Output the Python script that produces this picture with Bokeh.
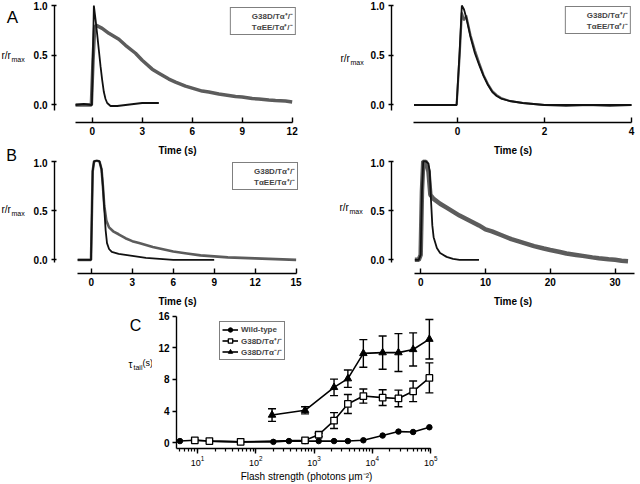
from bokeh.plotting import figure
from bokeh.models import (Range1d, Label, Legend, LegendItem, Whisker, TeeHead,
                          ColumnDataSource, FixedTicker, LogTicker, Spacer, PrintfTickFormatter)
from bokeh.layouts import column, row
from bokeh.embed import file_html
from bokeh.resources import INLINE

FONT = "Liberation Sans"
GRAY = "#5c5c5c"
BLACK = "#111111"

# ---------------- data ----------------
# Panel A, left
a1_t_mut = [-1.0, -0.05, 0.05, 0.15, 0.25, 0.6, 1.0, 1.6, 2.0, 2.6, 3.0, 3.6, 4.0, 4.6, 5.0, 5.6,
            6.0, 6.6, 7.0, 7.6, 8.0, 8.6, 9.0, 9.6, 10.0, 10.6, 11.0, 11.6, 12.0]
a1_r_mut = [0.0, 0.0, 0.45, 0.78, 0.80, 0.77, 0.72, 0.66, 0.60, 0.52, 0.45, 0.36, 0.32, 0.26, 0.23, 0.19,
            0.17, 0.14, 0.13, 0.11, 0.10, 0.085, 0.08, 0.065, 0.06, 0.05, 0.045, 0.04, 0.03]
a1_t_ee = [-1.0, -0.5, -0.02, 0.05, 0.1, 0.2, 0.3, 0.4, 0.5, 0.6, 0.7, 0.8, 0.9, 1.1, 1.5,
           2.0, 2.5, 3.0, 3.5, 4.0]
a1_r_ee = [0.0, 0.01, 0.0, 0.55, 1.0, 0.86, 0.71, 0.55, 0.39, 0.25, 0.13, 0.06, 0.02, -0.01, -0.01,
           0.0, 0.01, 0.02, 0.02, 0.02]

# Panel A, right
a2_t = [-1.0, -0.5, -0.02, 0.05, 0.1, 0.15, 0.2, 0.3, 0.4, 0.5, 0.6, 0.7, 0.8, 0.9, 1.0, 1.2,
        1.5, 2.0, 2.5, 3.0, 3.5, 4.0]
a2_r_ee = [0.0, 0.0, 0.0, 0.55, 1.0, 0.96, 0.88, 0.68, 0.52, 0.40, 0.29, 0.20, 0.13, 0.09, 0.065, 0.04,
           0.02, 0.0, 0.0, 0.0, 0.0, 0.0]
a2_r_mut = [0.0, 0.0, 0.0, 0.5, 0.93, 0.85, 0.9, 0.70, 0.55, 0.42, 0.30, 0.21, 0.14, 0.10, 0.07, 0.04,
            0.02, 0.0, -0.01, 0.0, -0.01, 0.0]

# Panel B, left
b1_t_ee = [-1.0, -0.5, -0.02, 0.1, 0.2, 0.4, 0.6, 0.75, 0.85, 0.95, 1.05, 1.15, 1.3, 1.5, 2.0,
           2.5, 3.0, 4.0, 5.0, 6.0, 7.0, 8.0, 9.0]
b1_r_ee = [0.0, 0.0, 0.0, 0.9, 1.0, 1.01, 1.0, 0.92, 0.75, 0.52, 0.30, 0.17, 0.11, 0.08, 0.06,
           0.05, 0.04, 0.02, 0.01, 0.0, 0.0, 0.0, 0.0]
b1_t_mut = [-1.0, -0.02, 0.1, 0.2, 0.4, 0.6, 0.75, 0.85, 0.95, 1.1, 1.3, 1.6, 2.0, 2.5, 3.0, 3.5,
            4.0, 4.5, 5.0, 5.5, 6.0, 7.0, 8.0, 9.0, 10.0, 11.0, 12.0, 13.0, 14.0, 15.0]
b1_r_mut = [0.0, 0.0, 0.9, 1.0, 1.01, 1.0, 0.92, 0.75, 0.55, 0.40, 0.33, 0.29, 0.26, 0.22, 0.19, 0.17,
            0.15, 0.13, 0.115, 0.10, 0.085, 0.065, 0.045, 0.035, 0.025, 0.02, 0.015, 0.01, 0.005, 0.0]

# Panel B, right
b2_t_ee = [-0.9, -0.3, 0.0, 0.2, 0.4, 0.8, 1.2, 1.4, 1.6, 1.8, 2.0, 2.5, 3.0, 4.0, 5.0, 6.0,
           7.0, 8.0, 9.0]
b2_r_ee = [0.0, 0.0, 0.05, 0.7, 1.0, 1.0, 0.98, 0.9, 0.6, 0.35, 0.23, 0.12, 0.07, 0.03, 0.01, 0.0,
           0.0, 0.0, 0.0]
b2_t_mut = [-0.9, -0.3, 0.0, 0.2, 0.4, 0.8, 1.2, 1.5, 2.0, 3.0, 4.0, 5.0, 6.0, 7.5, 9.0, 10.0,
            11.0, 12.5, 14.0, 15.0, 16.5, 17.5, 19.0, 20.0, 21.5, 22.5, 24.0, 25.0, 26.5, 27.5,
            29.0, 30.0, 31.0, 32.0]
b2_r_mut = [0.0, 0.0, 0.05, 0.7, 1.0, 1.0, 0.9, 0.66, 0.62, 0.57, 0.53, 0.49, 0.45, 0.40, 0.35, 0.31,
            0.29, 0.25, 0.21, 0.19, 0.16, 0.14, 0.115, 0.10, 0.08, 0.065, 0.05, 0.04, 0.025, 0.016,
            0.005, 0.0, -0.01, -0.015]

# Panel C
flash_wt = [5, 9, 16, 55, 200, 370, 700, 1200, 2200, 3800, 7000, 15000, 28000, 50000, 95000]
tau_wt = [0.2, 0.3, 0.2, 0.1, 0.1, 0.2, 0.2, 0.2, 0.2, 0.2, 0.3, 0.9, 1.4, 1.35, 1.95]
flash_het = [9, 16, 55, 700, 1200, 2200, 3800, 7000, 15000, 28000, 50000, 95000]
tau_het = [0.3, 0.2, 0.1, 0.3, 1.0, 2.8, 4.9, 5.9, 5.7, 5.6, 6.5, 8.2]
err_het = [0.0, 0.0, 0.0, 0.1, 0.2, 1.0, 1.2, 0.9, 1.0, 1.05, 1.3, 1.9]
flash_ko = [190, 700, 2200, 3800, 7000, 15000, 28000, 50000, 95000]
tau_ko = [3.5, 4.1, 7.0, 8.1, 11.3, 11.4, 11.4, 11.8, 13.1]
err_ko = [0.8, 0.45, 1.05, 1.1, 1.75, 2.1, 2.4, 2.1, 2.5]

lab_mut = "G38D/T\u03b1\u207a/\u207b"
lab_ee = "T\u03b1EE/T\u03b1\u207a/\u207b"
lab_wt = "Wild-type"
lab_ko = "G38D/T\u03b1\u207b/\u207b"


def base_fig(w, h, xr, yr, bl, br, bt, bb, xlog=False):
    kw = dict(width=w, height=h, x_range=Range1d(*xr), y_range=Range1d(*yr),
              output_backend="svg", toolbar_location=None,
              min_border_left=bl, min_border_right=br, min_border_top=bt, min_border_bottom=bb)
    if xlog:
        kw["x_axis_type"] = "log"
    p = figure(**kw)
    p.xgrid.visible = False
    p.ygrid.visible = False
    p.outline_line_color = None
    p.background_fill_color = "white"
    p.border_fill_color = "white"
    for ax in (p.xaxis[0], p.yaxis[0]):
        ax.axis_line_color = "black"
        ax.axis_line_width = 1.4
        ax.major_tick_line_color = "black"
        ax.major_tick_line_width = 1.4
        ax.major_label_text_font = FONT
        ax.major_label_text_font_style = "bold"
        ax.major_label_text_font_size = "10px"
        ax.major_label_text_color = "black"
        ax.axis_label_text_font = FONT
        ax.axis_label_text_font_style = "bold"
        ax.axis_label_text_font_size = "10px"
        ax.axis_label_text_color = "black"
    return p


def trace_fig(w, h, xr, yr, bl, br, bt, bb, xticks, xbounds, ybounds):
    p = base_fig(w, h, xr, yr, bl, br, bt, bb)
    p.xaxis.ticker = FixedTicker(ticks=xticks)
    p.yaxis.ticker = FixedTicker(ticks=[0.0, 0.5, 1.0])
    p.yaxis.formatter = PrintfTickFormatter(format="%.1f")
    p.xaxis.bounds = xbounds
    p.yaxis.bounds = ybounds
    p.xaxis.major_tick_in = 5
    p.xaxis.major_tick_out = 0
    p.xaxis.minor_tick_line_color = None
    p.yaxis.major_tick_in = 2
    p.yaxis.major_tick_out = 3
    p.yaxis.minor_tick_line_color = None
    p.xaxis.major_label_standoff = 4
    p.yaxis.major_label_standoff = 4
    p.xaxis.axis_label = "Time (s)"
    p.xaxis.axis_label_standoff = 7
    return p


def label_fig(w, h):
    """A bare strip (no axes) whose units are its own pixels, for side texts."""
    p = figure(width=w, height=h, x_range=Range1d(0, w), y_range=Range1d(0, h),
               output_backend="svg", toolbar_location=None, min_border=0,
               x_axis_location=None, y_axis_location=None)
    p.xgrid.visible = False
    p.ygrid.visible = False
    p.outline_line_color = None
    p.background_fill_color = "white"
    p.border_fill_color = "white"
    return p


def put_text(p, x0, y0, px, py, text, size, align="left"):
    h = p.height
    p.add_layout(Label(x=px - x0, y=h - (py - y0), text=text, text_font=FONT,
                       text_font_size=size, text_baseline="middle", text_align=align,
                       text_color="black"))


def add_rlabel(p, x0, y0, px, py):
    put_text(p, x0, y0, px, py, "r/r", "10px")
    put_text(p, x0, y0, px + 10, py + 4, "max", "7px")


def legend_for(p, loc, margin=0):
    pm = p.line(x=[], y=[], line_color=GRAY, line_width=1.5)
    pe = p.line(x=[], y=[], line_color=BLACK, line_width=1.5)
    leg = Legend(items=[LegendItem(label=lab_mut, renderers=[pm]),
                        LegendItem(label=lab_ee, renderers=[pe])],
                 location=loc, margin=margin, padding=2, spacing=0,
                 glyph_width=16, glyph_height=11, label_height=11, label_standoff=3,
                 label_text_font=FONT, label_text_font_size="8px", label_text_font_style="bold",
                 border_line_color="black", border_line_width=1.2, background_fill_alpha=1.0)
    p.add_layout(leg)


# ---------------- side text strips ----------------
lab_left = label_fig(30, 309)      # page x 0..30, y 0..309
put_text(lab_left, 0, 0, 12, 17, "A", "17px", align="center")
add_rlabel(lab_left, 0, 0, 1, 55)
put_text(lab_left, 0, 0, 11, 155, "B", "16px", align="center")
add_rlabel(lab_left, 0, 0, 1, 209)

lab_right = label_fig(46, 309)     # page x 320..366
add_rlabel(lab_right, 320, 0, 340, 58)
add_rlabel(lab_right, 320, 0, 339, 207)

lab_c = label_fig(32, 175)         # page x 120..152, y 309..484
put_text(lab_c, 120, 309, 135, 322, "C", "16px", align="center")
put_text(lab_c, 120, 309, 128, 374, "\u03c4", "10px")
put_text(lab_c, 120, 309, 133, 378, "tail", "7px")
put_text(lab_c, 120, 309, 142, 372, "(s)", "9px")

# ---------------- Panel A left ----------------
pa1 = trace_fig(290, 158, (-2.262, 12.5), (-0.176, 1.02), 22, 20, 3, 33,
                [0, 3, 6, 9, 12], (-1, 12), (-0.06, 1.0))
pa1.line(a1_t_mut, a1_r_mut, line_color=GRAY, line_width=3.5)
pa1.line(a1_t_ee, a1_r_ee, line_color=BLACK, line_width=1.8)
legend_for(pa1, "top_right", 4)

# ---------------- Panel A right ----------------
pa2 = trace_fig(274, 158, (-1.517, 4.069), (-0.176, 1.02), 25, 6, 3, 33,
                [0, 2, 4], (-1, 4), (-0.06, 1.0))
pa2.line(a2_t, a2_r_mut, line_color=GRAY, line_width=2.2)
pa2.line(a2_t, a2_r_ee, line_color=BLACK, line_width=1.8)
legend_for(pa2, "top_right", 3)

# ---------------- Panel B left ----------------
pb1 = trace_fig(290, 151, (-2.695, 15.32), (-0.139, 1.02), 22, 14, 1, 33,
                [0, 3, 6, 9, 12, 15], (-1, 15), (-0.03, 1.0))
pb1.line(b1_t_mut, b1_r_mut, line_color=GRAY, line_width=2.6)
pb1.line(b1_t_ee, b1_r_ee, line_color=BLACK, line_width=1.8)
legend_for(pb1, (178, 83))

# ---------------- Panel B right ----------------
pb2 = trace_fig(274, 151, (-4.5, 33.0), (-0.139, 1.02), 24, 0, 1, 33,
                [0, 10, 20, 30], (-1, 33), (-0.03, 1.0))
pb2.line(b2_t_mut, b2_r_mut, line_color=GRAY, line_width=4.5)
pb2.line(b2_t_ee, b2_r_ee, line_color=BLACK, line_width=1.8)

# ---------------- Panel C ----------------
pc = base_fig(292, 175, (10 ** 0.64, 10 ** 5.1), (-0.74, 16.1), 24, 8, 6, 33, xlog=True)
pc.xaxis.ticker = LogTicker(num_minor_ticks=10)
pc.xaxis.bounds = (10 ** 0.64, 1e5)
pc.xaxis.major_tick_in = 0
pc.xaxis.major_tick_out = 5
pc.xaxis.minor_tick_in = 0
pc.xaxis.minor_tick_out = 3
pc.xaxis.minor_tick_line_color = "black"
pc.xaxis.minor_tick_line_width = 1.2
pc.xaxis.major_label_standoff = 2
pc.xaxis.major_label_text_font_style = "normal"
pc.xaxis.major_label_text_font_size = "9px"
pc.xaxis.axis_label = "Flash strength (photons \u03bcm\u207b\u00b2)"
pc.xaxis.axis_label_text_font_style = "normal"
pc.xaxis.axis_label_standoff = 2
pc.yaxis.ticker = FixedTicker(ticks=[0, 4, 8, 12, 16])
pc.yaxis.bounds = (-0.74, 16)
pc.yaxis.major_tick_in = 0
pc.yaxis.major_tick_out = 4
pc.yaxis.minor_tick_line_color = None
pc.yaxis.major_label_standoff = 3

src_het = ColumnDataSource(dict(x=flash_het,
                                lo=[t - e for t, e in zip(tau_het, err_het)],
                                hi=[t + e for t, e in zip(tau_het, err_het)]))
src_ko = ColumnDataSource(dict(x=flash_ko,
                               lo=[t - e for t, e in zip(tau_ko, err_ko)],
                               hi=[t + e for t, e in zip(tau_ko, err_ko)]))
for src in (src_het, src_ko):
    pc.add_layout(Whisker(source=src, base="x", lower="lo", upper="hi", line_color="black",
                          line_width=1.4,
                          upper_head=TeeHead(size=8, line_color="black", line_width=1.4),
                          lower_head=TeeHead(size=8, line_color="black", line_width=1.4)))

l_wt = pc.line(flash_wt, tau_wt, line_color="black", line_width=1.6)
s_wt = pc.scatter(flash_wt, tau_wt, marker="circle", size=5.5, color="black")
l_het = pc.line(flash_het, tau_het, line_color="black", line_width=1.6)
s_het = pc.scatter(flash_het, tau_het, marker="square", size=6.5, fill_color="white",
                   line_color="black", line_width=1.3)
l_ko = pc.line(flash_ko, tau_ko, line_color="black", line_width=1.6)
s_ko = pc.scatter(flash_ko, tau_ko, marker="triangle", size=7.5, color="black")

legc = Legend(items=[LegendItem(label=lab_wt, renderers=[l_wt, s_wt]),
                     LegendItem(label=lab_mut, renderers=[l_het, s_het]),
                     LegendItem(label=lab_ko, renderers=[l_ko, s_ko])],
              location=(43, 136 - 8 - 37 - 3), padding=2, spacing=0,
              glyph_width=16, glyph_height=11, label_height=11, label_standoff=3,
              label_text_font=FONT, label_text_font_size="8px", label_text_font_style="bold",
              border_line_color="black", border_line_width=1.2, background_fill_alpha=1.0)
pc.add_layout(legc)

layout = column(
    row(lab_left, column(pa1, pb1), lab_right, column(pa2, pb2)),
    row(Spacer(width=120, height=175), lab_c, pc),
)

open("out.html", "w").write(file_html(layout, INLINE))
